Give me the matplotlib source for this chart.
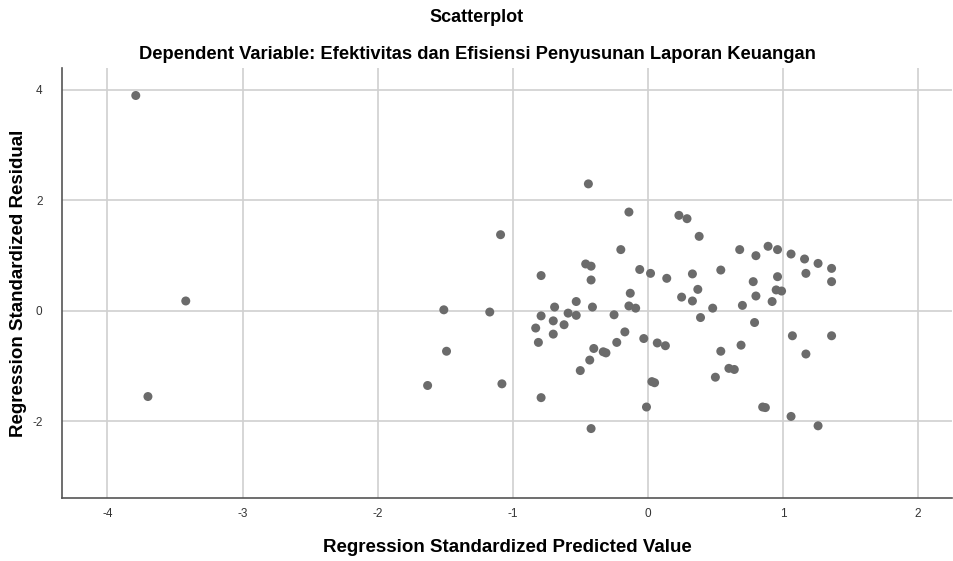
import matplotlib.pyplot as plt

plt.rcParams['font.family'] = ['Liberation Sans', 'DejaVu Sans']

# Regression standardized predicted value (x) and residual (y)
predicted = [-3.79, -3.42, -3.70, -1.51, -1.17, -1.09, -1.49, -1.63, -1.08,
             -0.44, -0.14, 0.23, 0.29, -0.20, -0.46, -0.42, -0.42, -0.79,
             -0.06, 0.02, 0.14, -0.13, 0.25, -0.53, -0.69, -0.41, -0.14,
             -0.09, -0.59, -0.53, -0.79, -0.25, -0.70, -0.62, -0.83, -0.70,
             -0.17, -0.03, -0.81, -0.23, 0.07, 0.13, -0.40, -0.33, -0.31,
             -0.43, -0.50, 0.03, 0.05, -0.79, -0.01, -0.42,
             0.38, 0.68, 0.80, 0.89, 0.96, 1.06, 1.16, 1.26, 1.36,
             0.33, 0.54, 0.37, 0.33, 0.48, 0.39, 0.78, 0.96, 1.17, 1.36,
             0.80, 0.70, 0.92, 0.95, 0.99, 0.79, 1.07, 1.36, 1.17, 0.69,
             0.54, 0.60, 0.64, 0.50, 0.85, 0.87, 1.06, 1.26]
residual = [3.90, 0.18, -1.55, 0.02, -0.02, 1.38, -0.73, -1.35, -1.32,
            2.30, 1.79, 1.73, 1.67, 1.11, 0.85, 0.81, 0.56, 0.64,
            0.75, 0.68, 0.59, 0.32, 0.25, 0.17, 0.07, 0.07, 0.09,
            0.05, -0.04, -0.08, -0.09, -0.07, -0.18, -0.25, -0.31, -0.42,
            -0.38, -0.50, -0.57, -0.57, -0.58, -0.63, -0.68, -0.74, -0.76,
            -0.89, -1.08, -1.28, -1.30, -1.57, -1.74, -2.13,
            1.35, 1.11, 1.00, 1.17, 1.11, 1.03, 0.94, 0.86, 0.77,
            0.67, 0.74, 0.39, 0.18, 0.05, -0.12, 0.53, 0.62, 0.68, 0.53,
            0.27, 0.10, 0.17, 0.38, 0.36, -0.21, -0.45, -0.45, -0.78, -0.62,
            -0.73, -1.04, -1.06, -1.20, -1.74, -1.75, -1.91, -2.08]

x_ticks = [-4, -3, -2, -1, 0, 1, 2]
y_ticks = [-2, 0, 2, 4]

fig = plt.figure(figsize=(9.54, 5.61), dpi=100)
ax = fig.add_axes([0.065, 0.112, 0.933, 0.767])

ax.scatter(predicted, residual, s=42, color='#6b6b6b', edgecolors='none', zorder=3)

ax.set_xlim(-4.336, 2.252)
ax.set_ylim(-3.39, 4.40)
ax.set_xticks(x_ticks)
ax.set_yticks(y_ticks)
ax.set_xticklabels([str(t) for t in x_ticks])
ax.set_yticklabels([str(t) for t in y_ticks])
ax.grid(True, color='#d0d0d0', linewidth=1.2, zorder=0)
ax.set_axisbelow(True)

for side in ['top', 'right']:
    ax.spines[side].set_visible(False)
for side in ['left', 'bottom']:
    ax.spines[side].set_color('#555555')
    ax.spines[side].set_linewidth(1.2)

ax.tick_params(length=0, labelsize=8.5, labelcolor='#333333')
ax.tick_params(axis='x', pad=7)
ax.tick_params(axis='y', pad=14)

ax.set_xlabel('Regression Standardized Predicted Value', fontsize=13.5, fontweight='bold')
ax.set_ylabel('Regression Standardized Residual', fontsize=13.5, fontweight='bold')
ax.xaxis.set_label_coords(0.5, -0.114)
ax.yaxis.set_label_coords(-0.049, 0.5)
ax.xaxis.label.set_va('center')
ax.yaxis.label.set_va('center')

fig.text(0.5, 0.968, 'Scatterplot', ha='center', va='center', fontsize=13, fontweight='bold')
fig.text(0.5, 0.902, 'Dependent Variable: Efektivitas dan Efisiensi Penyusunan Laporan Keuangan',
         ha='center', va='center', fontsize=13.2, fontweight='bold')

fig.savefig('out.png', dpi=100)
